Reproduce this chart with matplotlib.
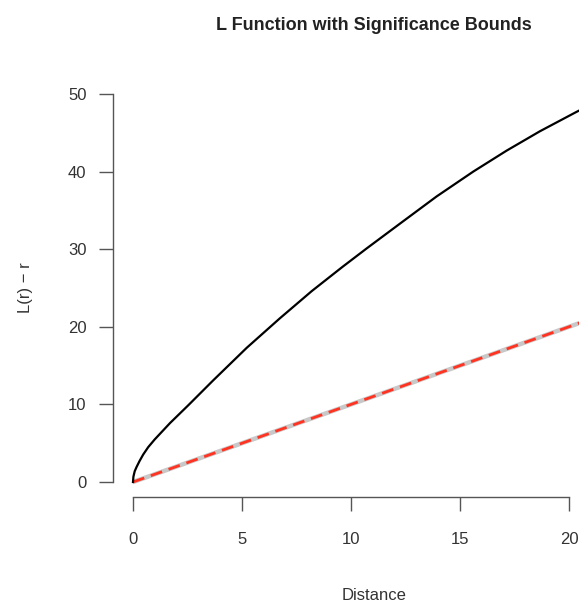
import numpy as np
import matplotlib.pyplot as plt

plt.rcParams['font.family'] = ['Liberation Sans', 'DejaVu Sans']

# L function
r = [0.0, 0.02, 0.08, 0.17, 0.3, 0.47, 0.7, 1.0, 1.7, 2.54, 3.68,
     5.22, 6.74, 8.2, 9.6, 10.72, 12.25, 13.93, 15.61, 17.14, 18.67,
     20.35, 21.5]
L = [0.0, 0.7, 1.4, 1.97, 2.7, 3.55, 4.5, 5.5, 7.6, 9.9, 13.1,
     17.3, 21.1, 24.6, 27.7, 30.1, 33.3, 36.8, 40.0, 42.7, 45.2,
     47.7, 49.3]

# significance bounds (theoretical line)
bound_r = [0.0, 23.0]
bound_L = [0.0, 23.0]

xticks = [0, 5, 10, 15, 20]
yticks = [0, 10, 20, 30, 40, 50]

W, H = 579, 603
fig = plt.figure(figsize=(W / 100, H / 100), dpi=100)
# plot region in pixels: left 113, right 635 (cropped), top 78, bottom 497
ax = fig.add_axes([113 / W, (H - 497) / H, (635 - 113) / W, (497 - 78) / H])

ax.plot(bound_r, bound_L, color='#c8c8c8', lw=3.2, solid_capstyle='butt')
ax.plot(bound_r, bound_L, color='#ff3322', lw=2.0, dashes=(4.3, 2.5))
ax.plot(r, L, color='black', lw=1.6, solid_joinstyle='round')

ax.set_xlim(-0.917, 23.03)
ax.set_ylim(-1.93, 52.06)

for s in ['top', 'right']:
    ax.spines[s].set_visible(False)
ax.spines['bottom'].set_bounds(0, 20)
ax.spines['left'].set_bounds(0, 50)
for s in ['bottom', 'left']:
    ax.spines[s].set_color('#555555')
    ax.spines[s].set_linewidth(1.0)

ax.set_xticks(xticks)
ax.set_yticks(yticks)
ax.tick_params(axis='both', length=10, width=1.0, color='#555555',
               labelcolor='#333333', labelsize=12)
ax.tick_params(axis='x', pad=15)
ax.tick_params(axis='y', pad=9)

ax.set_xlabel('Distance', fontsize=12, color='#333333', labelpad=30)
ax.set_ylabel('L(r) \u2212 r', fontsize=12, color='#333333', labelpad=25)

fig.text(374 / W, 1 - 25 / H, 'L Function with Significance Bounds',
         ha='center', va='center', fontsize=13, fontweight='bold',
         color='#222222')

fig.savefig('out.png', dpi=100)
